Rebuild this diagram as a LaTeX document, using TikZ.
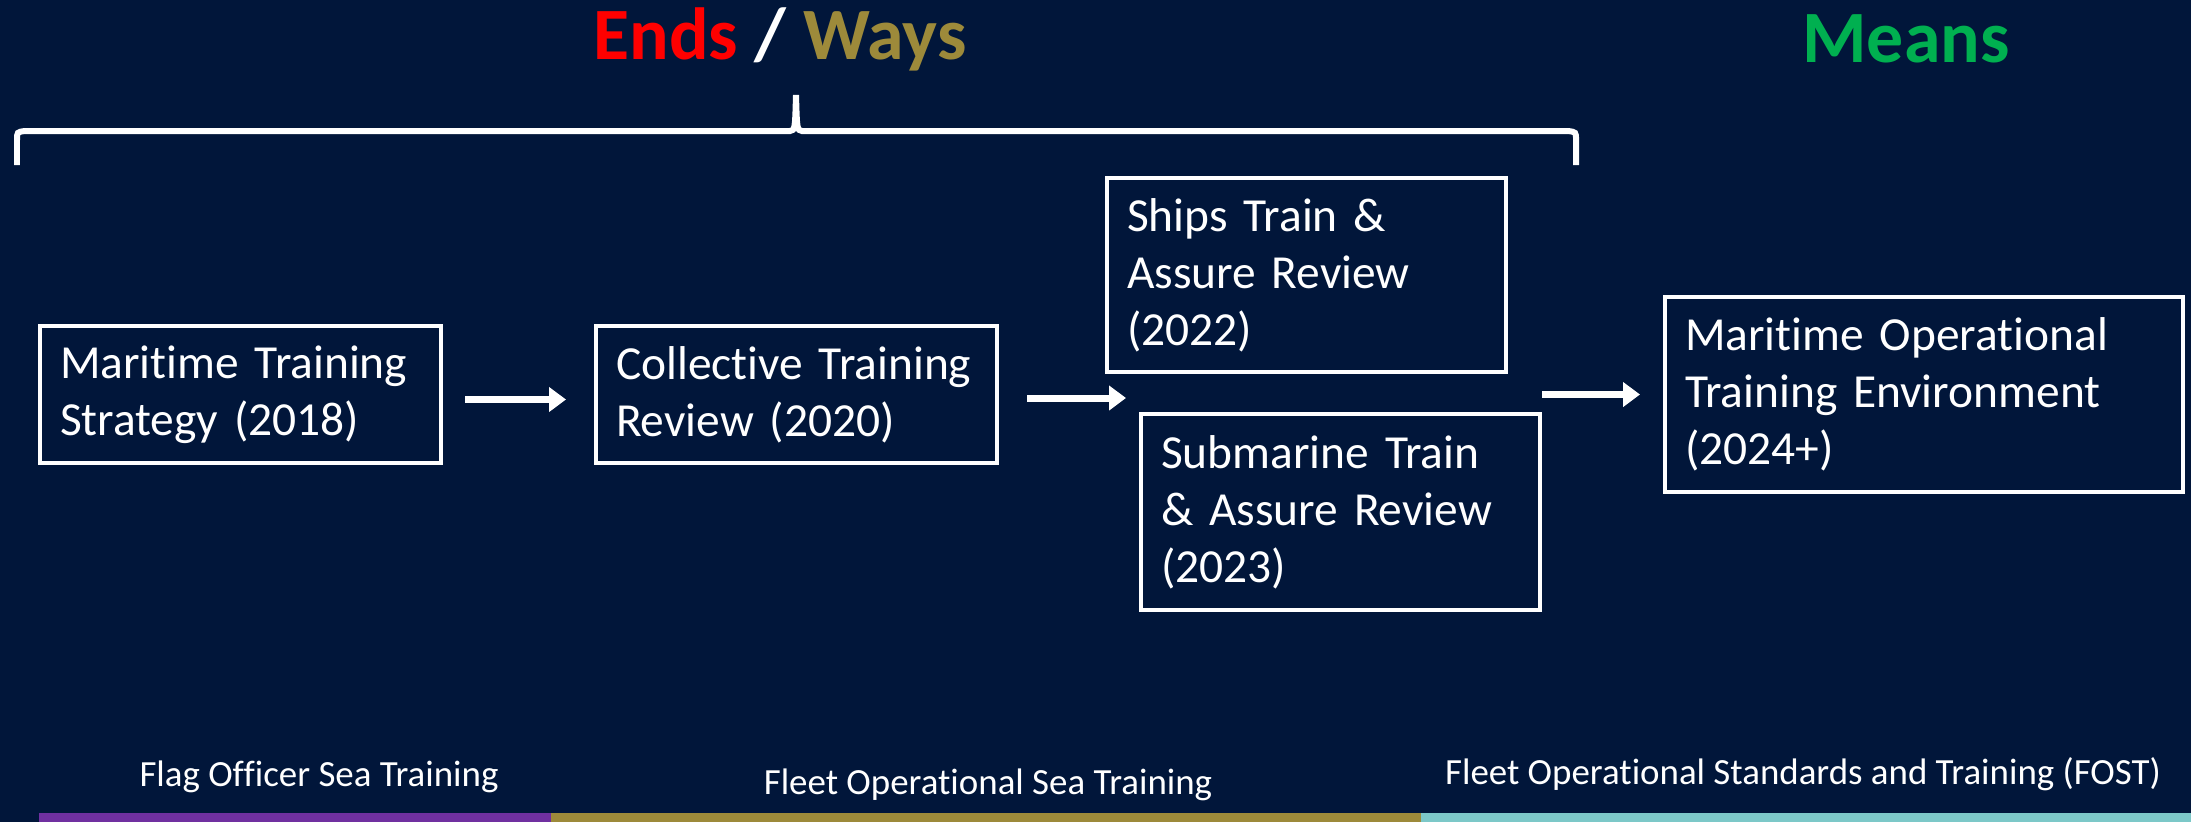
\documentclass[tikz,border=0pt]{standalone}
\usepackage{fontspec}
\setmainfont{Carlito}[RawFeature={-liga;-clig;-calt;-dlig}]
\usetikzlibrary{arrows.meta}

\definecolor{navy}{RGB}{1,22,58}
\definecolor{endsred}{RGB}{255,0,0}
\definecolor{waysgold}{RGB}{157,138,58}
\definecolor{meansgreen}{RGB}{0,176,80}
\definecolor{barpurple}{RGB}{112,48,160}
\definecolor{barolive}{RGB}{157,138,58}
\definecolor{barteal}{RGB}{124,200,200}

\tikzset{
  review/.style={draw=white, line width=0.04cm, text=white, anchor=north west,
    align=left, inner xsep=0.2cm, inner ysep=0pt,
    font=\fontsize{13.5}{16.2}\selectfont},
  flow/.style={white, line width=0.07cm, -{Triangle[length=0.17cm,width=0.24cm]}},
  heading/.style={font=\fontsize{21}{24}\selectfont\bfseries},
  unit/.style={text=white, font=\fontsize{10.5}{12}\selectfont}
}

\begin{document}
\begin{tikzpicture}[y=-1cm]
\fill[navy] (0,0) rectangle (21.91,8.22);
\useasboundingbox (0,0) rectangle (21.91,8.22);

% headings
\node[heading] (endsways) at (7.80,0.39) {\textcolor{endsred}{Ends} \textcolor{white}{/} \textcolor{waysgold}{Ways}};
\node[heading, text=meansgreen] (means) at (19.06,0.39) {Means};

% brace
\draw[white, line width=0.06cm]
  (0.17,1.65) -- (0.17,1.40) .. controls (0.17,1.32) .. (0.25,1.31) -- (7.90,1.31)
  .. controls (7.95,1.30) .. (7.96,0.95) .. controls (7.97,1.30) .. (8.02,1.31)
  -- (15.68,1.31) .. controls (15.76,1.32) .. (15.76,1.40) -- (15.76,1.65);

% reviews
\node[review, text width=3.61cm, minimum height=1.37cm] (mts) at (0.38,3.24)
  {Maritime Training\\Strategy (2018)};
\node[review, text width=3.61cm, minimum height=1.37cm] (ctr) at (5.94,3.24)
  {Collective Training\\Review (2020)};
\node[review, text width=3.59cm, minimum height=1.94cm] (ships) at (11.05,1.76)
  {Ships Train \&\\Assure Review\\(2022)};
\node[review, text width=3.59cm, minimum height=1.96cm] (subs) at (11.39,4.12)
  {Submarine Train\\\& Assure Review\\(2023)};
\node[review, text width=4.78cm, minimum height=1.95cm] (mote) at (16.63,2.95)
  {Maritime Operational\\Training Environment\\(2024+)};

\coordinate (split) at (11.26,3.98);

\draw[flow, shorten <=0.22cm, shorten >=0.28cm] ([yshift=-0.05cm]mts.east) -- ([yshift=-0.05cm]ctr.west);
\draw[flow, shorten <=0.28cm] (ctr.east |- split) -- (split);
\draw[flow, shorten >=0.23cm] (subs.east |- mote.west) -- (mote.west);

% commands
\node[unit] (fost1) at (3.19,7.77) {Flag Officer Sea Training};
\node[unit] (fost2) at (9.88,7.85) {Fleet Operational Sea Training};
\node[unit] (fost3) at (18.03,7.74) {Fleet Operational Standards and Training (FOST)};

\fill[barpurple] (0.39,8.13) rectangle (5.51,8.22);
\fill[barolive] (5.51,8.13) rectangle (14.21,8.22);
\fill[barteal] (14.21,8.13) rectangle (21.91,8.22);
\end{tikzpicture}
\end{document}
